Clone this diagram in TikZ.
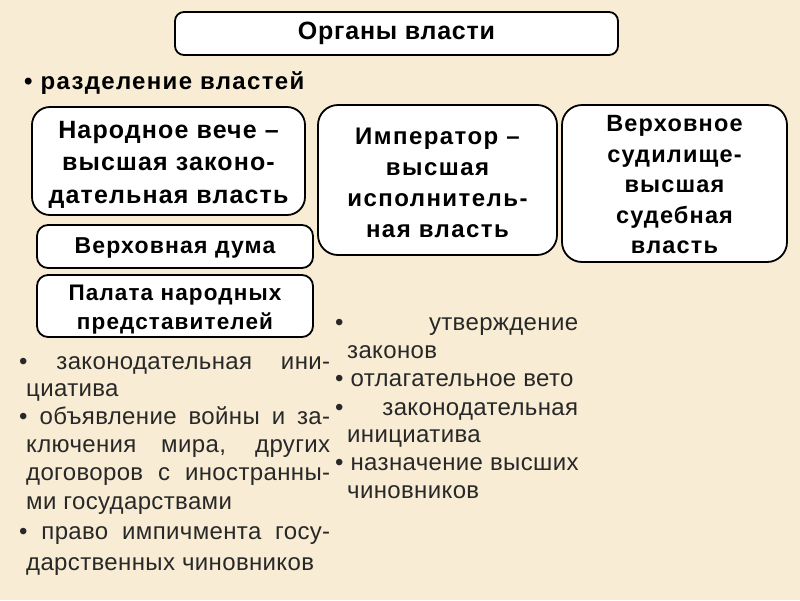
\documentclass[tikz,border=0pt]{standalone}
\usepackage{fontspec}
\setmainfont{Liberation Sans}
\definecolor{bg}{RGB}{248,237,212}
\definecolor{listtext}{RGB}{40,40,40}
\newcommand{\bx}[3]{\fontsize{#1}{#2}\selectfont\addfontfeature{LetterSpace=#3}}
\begin{document}
\begin{tikzpicture}[x=1pt,y=-1pt,
  box/.style={draw=black,line width=1.8pt,fill=white,align=center,inner sep=0pt},
  ln/.style={anchor=base west,inner sep=0pt,text=listtext,font=\fontsize{24}{29}\selectfont\addfontfeature{LetterSpace=1.5}}]
\fill[bg] (0,0) rectangle (800,600);
\useasboundingbox (0,0) rectangle (800,600);
% title
\node[box,rounded corners=9pt,minimum width=443pt,minimum height=43pt,font={\bfseries\bx{25}{30}{3}}] (title) at (396.5,33.5) {Органы власти};
\node[anchor=west,inner sep=0pt,font={\bfseries\bx{24}{30}{5.5}}] (sep) at (24,83) {• разделение властей};
% boxes
\node[box,rounded corners=18pt,minimum width=273pt,minimum height=108pt,font={\bfseries\bx{25}{32.5}{4.5}}] (veche) at (168.5,161) {\rule{0pt}{24pt}Народное вече –\\высшая законо-\\дательная власть};
\node[box,rounded corners=11pt,minimum width=276pt,minimum height=43pt,font={\bfseries\bx{23}{28}{5}}] (duma) at (175,246.5) {\rule{0pt}{19pt}Верховная дума};
\node[box,rounded corners=11pt,minimum width=276pt,minimum height=62pt,font={\bfseries\bx{22.5}{29}{5}}] (palata) at (175,306) {\rule{0pt}{22pt}Палата народных\\представителей};
\node[box,rounded corners=20pt,minimum width=239pt,minimum height=150pt,font={\bfseries\bx{24}{31}{6}}] (imp) at (437.5,180) {\rule{0pt}{22pt}Император –\\высшая\\исполнитель-\\ная власть};
\node[box,rounded corners=20pt,minimum width=225pt,minimum height=157pt,font={\bfseries\bx{23.5}{30.5}{5}}] (sud) at (674.5,183.5) {\rule{0pt}{19pt}Верховное\\судилище-\\высшая\\судебная\\власть};
% left list
\node[ln] (l1) at (19,369.5) {\makebox[311pt][s]{• законодательная ини-}};
\node[ln] (l2) at (26,396.5) {циатива};
\node[ln] (l3) at (19,424.5) {\makebox[311pt][s]{• объявление войны и за-}};
\node[ln] (l4) at (26,452.5) {\makebox[304pt][s]{ключения мира, других}};
\node[ln] (l5) at (26,480) {\makebox[304pt][s]{договоров с иностранны-}};
\node[ln] (l6) at (26,509.5) {ми государствами};
\node[ln] (l7) at (19,539.5) {\makebox[311pt][s]{• право импичмента госу-}};
\node[ln] (l8) at (26,570) {дарственных чиновников};
% right list
\node[ln] (r1) at (335,330.5) {\makebox[243pt][s]{• утверждение}};
\node[ln] (r2) at (347,358.5) {законов};
\node[ln] (r3) at (335,386.5) {• отлагательное вето};
\node[ln] (r4) at (335,415.5) {\makebox[243pt][s]{• законодательная}};
\node[ln] (r5) at (347,442) {инициатива};
\node[ln] (r6) at (335,470.5) {• назначение высших};
\node[ln] (r7) at (347,498.5) {чиновников};
\end{tikzpicture}
\end{document}
